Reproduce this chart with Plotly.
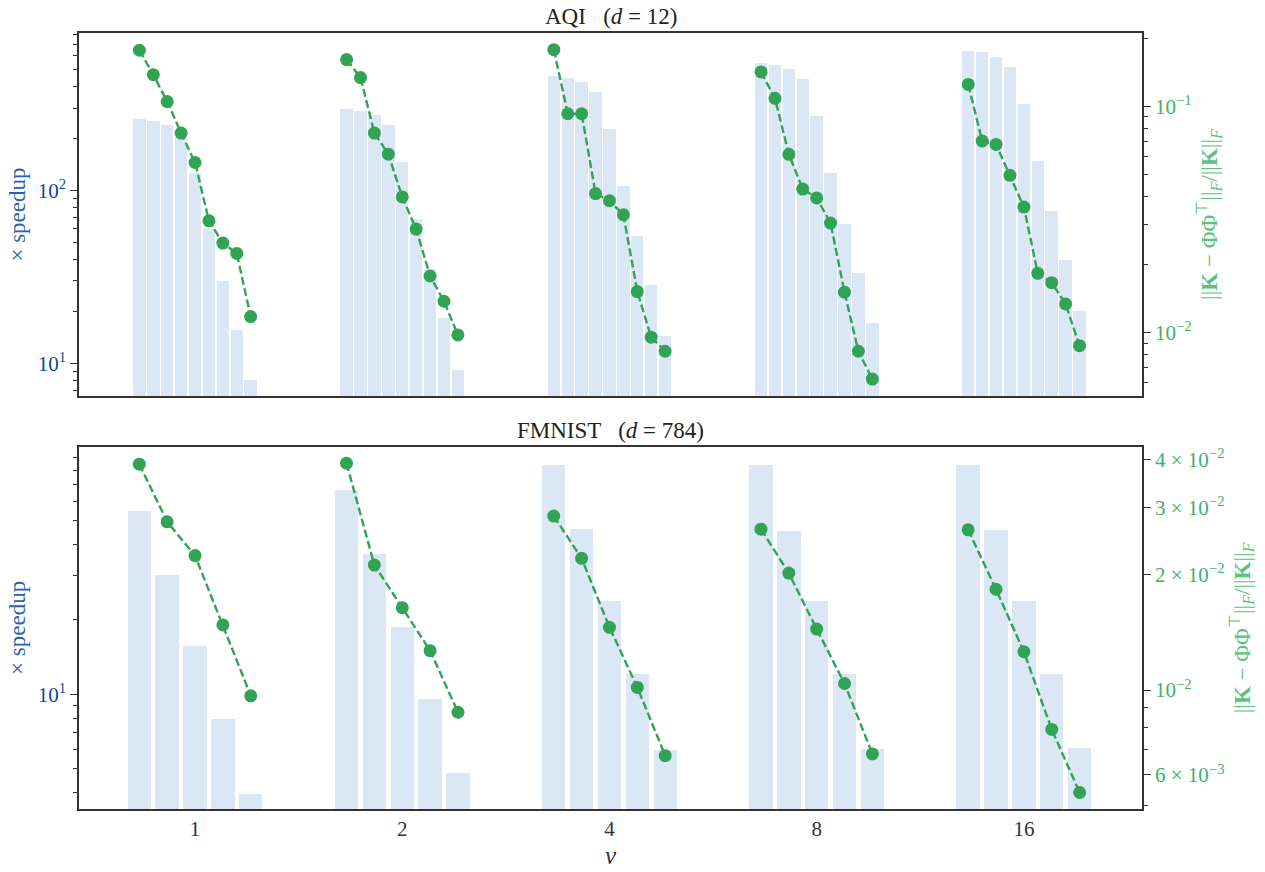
import plotly.graph_objects as go
import numpy as np

# ---------------- data ----------------
nu_labels = ["1", "2", "4", "8", "16"]

aqi_speedup = [
    [259, 251, 238, 210, 127, 59.7, 30.1, 15.6, 7.97],
    [297, 290, 274, 238, 146, 68.5, 35.1, 18.2, 9.2],
    [462, 450, 425, 373, 227, 106, 54.7, 28.5, 14.3],
    [545, 530, 505, 440, 268, 126, 63.8, 33.5, 17.1],
    [644, 630, 590, 519, 317, 149, 76.3, 39.8, 20.0],
]
aqi_error = [
    [0.177, 0.138, 0.105, 0.0762, 0.0565, 0.0312, 0.0249, 0.0224, 0.01178],
    [0.161, 0.134, 0.0762, 0.0615, 0.0398, 0.0287, 0.0178, 0.01377, 0.00977],
    [0.178, 0.0928, 0.0928, 0.0412, 0.0383, 0.0332, 0.0152, 0.00955, 0.00828],
    [0.142, 0.1085, 0.0614, 0.0431, 0.0394, 0.0305, 0.0151, 0.00828, 0.00624],
    [0.125, 0.0703, 0.0679, 0.0496, 0.0359, 0.0183, 0.01664, 0.0134, 0.00876],
]
fmnist_speedup = [
    [55.0, 30.3, 15.66, 7.95, 3.96],
    [66.7, 36.8, 18.8, 9.57, 4.82],
    [84.1, 46.3, 23.8, 12.07, 6.0],
    [84.5, 45.8, 23.8, 12.07, 6.05],
    [84.6, 46.1, 23.8, 12.15, 6.11],
]
fmnist_error = [
    [0.0389, 0.0275, 0.02244, 0.01479, 0.00966],
    [0.0391, 0.0212, 0.0164, 0.01267, 0.00875],
    [0.02846, 0.02208, 0.01458, 0.01016, 0.00674],
    [0.0263, 0.0202, 0.01443, 0.0104, 0.00681],
    [0.0262, 0.01833, 0.01259, 0.00789, 0.0054],
]

# ---------------- style ----------------
FONT = "Liberation Serif"
BAR_C = "#dbe7f5"
GREEN = "#31a354"
GREEN_T = "#3fb068"
BLUE = "#0e4a94"
BLUE_T = "#2a63ad"
AX = "#333333"
TICK_SIZE = 21


def positions(values, slot, gaps=False):
    xs, ys = [], []
    for g, row in enumerate(values):
        n = len(row)
        for j, v in enumerate(row):
            xs.append(g + (j - (n - 1) / 2) * slot)
            ys.append(v)
        if gaps:
            xs.append(None)
            ys.append(None)
    return xs, ys


fig = go.Figure()

panels = [
    (aqi_speedup, aqi_error, 0.0671, 0.060, "x", "y", "y2"),
    (fmnist_speedup, fmnist_error, 0.1345, 0.113, "x2", "y3", "y4"),
]
for sp, er, slot, bw, xa, ya, ya2 in panels:
    bx, by = positions(sp, slot)
    fig.add_trace(go.Bar(x=bx, y=by, width=bw, marker=dict(color=BAR_C, line=dict(width=0)),
                         xaxis=xa, yaxis=ya, showlegend=False, hoverinfo="skip"))
    lx, ly = positions(er, slot, gaps=True)
    fig.add_trace(go.Scatter(x=lx, y=ly, mode="lines+markers", connectgaps=False,
                             line=dict(color=GREEN, width=2.4, dash="8px,3.5px"),
                             marker=dict(color=GREEN, size=13),
                             xaxis=xa, yaxis=ya2, showlegend=False, hoverinfo="skip"))

xr = [-0.56, 4.57]
common_x = dict(range=xr, showline=True, linecolor=AX, linewidth=1.6, mirror=True,
                ticks="", showgrid=False, zeroline=False, tickmode="array",
                tickvals=list(range(len(nu_labels))), ticktext=nu_labels, automargin=False,
                tickfont=dict(family=FONT, size=TICK_SIZE, color="#333"))


def sup(base, e):
    return f"{base}<sup>{e}</sup>"


def left_axis(domain, rng, majors, minors, labels):
    return dict(type="log", domain=domain, range=rng, showline=True, linecolor=AX,
                linewidth=1.6, ticks="outside", ticklen=7, tickwidth=1.4, tickcolor=AX,
                tickmode="array", tickvals=majors, ticktext=labels, showgrid=False,
                zeroline=False, automargin=False,
                tickfont=dict(family=FONT, size=TICK_SIZE, color=BLUE),
                title=dict(text="× speedup", font=dict(family=FONT, size=23, color=BLUE_T),
                           standoff=6),
                minor=dict(tickmode="array", tickvals=minors, ticks="outside", ticklen=4,
                           tickwidth=1.2, tickcolor=AX, showgrid=False))


ytitle_r = ("||<b>K</b> − ΦΦ<sup>⊤</sup>||<sub><i>F</i></sub>/||<b>K</b>||<sub><i>F</i></sub>")


def right_axis(overlay, rng, majors, minors, labels, anchor):
    return dict(type="log", overlaying=overlay, side="right", anchor=anchor, range=rng,
                showline=True, linecolor=AX, linewidth=1.6, ticks="outside", ticklen=7,
                tickwidth=1.4, tickcolor=AX, tickmode="array", tickvals=majors,
                ticktext=labels, showgrid=False, zeroline=False, automargin=False,
                tickfont=dict(family=FONT, size=TICK_SIZE, color=GREEN_T),
                title=dict(text=ytitle_r, font=dict(family=FONT, size=23, color="#5cc27f"),
                           standoff=10),
                minor=dict(tickmode="array", tickvals=minors, ticks="outside", ticklen=4,
                           tickwidth=1.2, tickcolor=AX, showgrid=False))


top_dom = [0.5322, 1.0]
bot_dom = [0.0, 0.4669]

fig.update_layout(
    width=1265, height=872,
    margin=dict(l=79, r=123, t=33, b=63, autoexpand=False),
    paper_bgcolor="white", plot_bgcolor="white",
    bargap=0,
    font=dict(family=FONT, color="#333"),
    xaxis=dict(common_x, domain=[0, 1], anchor="y", showticklabels=False),
    xaxis2=dict(common_x, domain=[0, 1], anchor="y3",
                title=dict(text="<i>ν</i>", font=dict(family=FONT, size=25, color="#333"),
                           standoff=6)),
    yaxis=left_axis(top_dom, [np.log10(6.47), np.log10(815)], [10, 100],
                    [7, 8, 9, 20, 30, 40, 50, 60, 70, 80, 90, 200, 300, 400, 500, 600, 700, 800],
                    [sup("10", "1"), sup("10", "2")]),
    yaxis2=right_axis("y", [np.log10(0.00525), np.log10(0.211)], [0.01, 0.1],
                      [0.006, 0.007, 0.008, 0.009, 0.02, 0.03, 0.04, 0.05, 0.06, 0.07, 0.08,
                       0.09, 0.2],
                      [sup("10", "−2"), sup("10", "−1")], "x"),
    yaxis3=left_axis(bot_dom, [0.5375, 1.998], [10],
                     [4, 5, 6, 7, 8, 9, 20, 30, 40, 50, 60, 70, 80, 90],
                     [sup("10", "1")]),
    yaxis4=right_axis("y3", [np.log10(0.00489), np.log10(0.0432)],
                      [0.006, 0.01, 0.02, 0.03, 0.04],
                      [0.005, 0.007, 0.008, 0.009],
                      [sup("6 × 10", "−3"), sup("10", "−2"), sup("2 × 10", "−2"),
                       sup("3 × 10", "−2"), sup("4 × 10", "−2")], "x2"),
    annotations=[
        dict(text="AQI   (<i>d</i> = 12)", x=0.5, y=1.0, xref="paper", yref="paper",
             xanchor="center", yanchor="bottom", yshift=2, showarrow=False,
             font=dict(family=FONT, size=23, color="#222")),
        dict(text="FMNIST   (<i>d</i> = 784)", x=0.5, y=0.4669, xref="paper", yref="paper",
             xanchor="center", yanchor="bottom", yshift=2, showarrow=False,
             font=dict(family=FONT, size=23, color="#222")),
    ],
)

fig.write_html("out.html")
